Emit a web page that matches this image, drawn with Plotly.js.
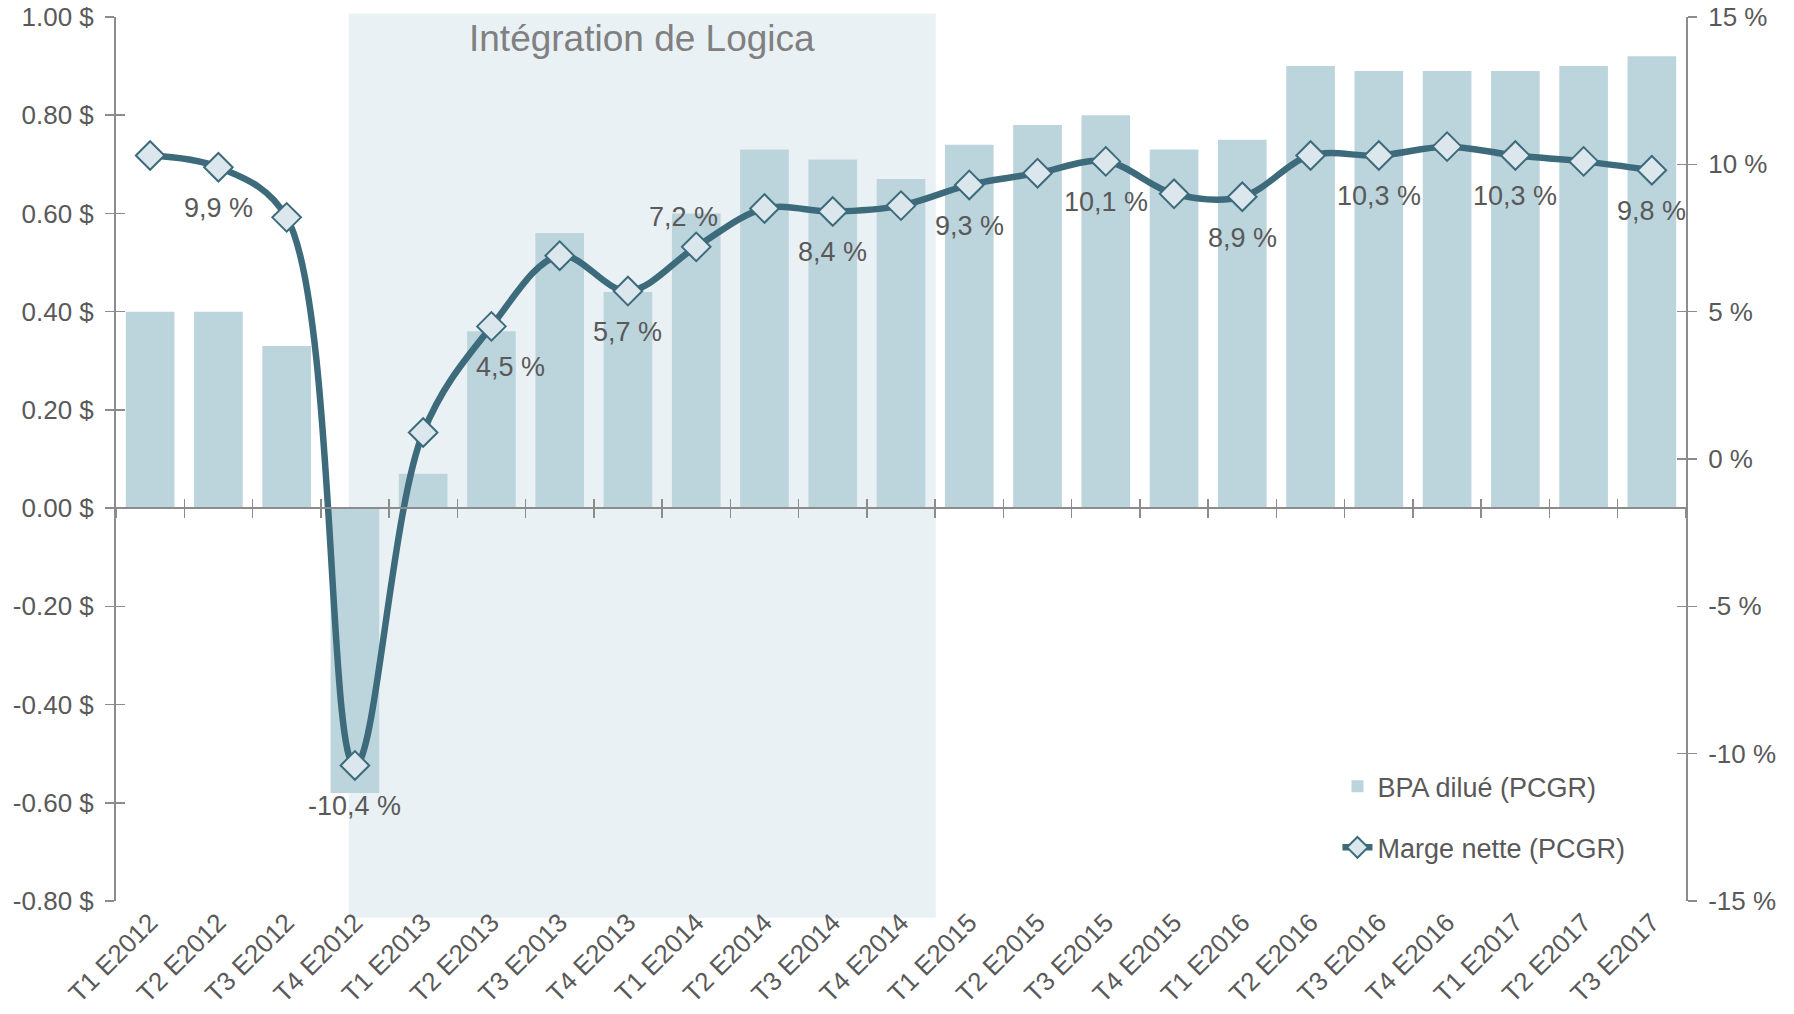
<!DOCTYPE html>
<html>
<head>
<meta charset="utf-8">
<script src="https://cdn.plot.ly/plotly-3.0.1.min.js"></script>
<style>
html,body{margin:0;padding:0;background:#fff;}
#chart{width:1794px;height:1014px;}
</style>
</head>
<body>
<div id="chart"></div>
<script>
const categories = ['T1 E2012','T2 E2012','T3 E2012','T4 E2012','T1 E2013','T2 E2013','T3 E2013','T4 E2013',
  'T1 E2014','T2 E2014','T3 E2014','T4 E2014','T1 E2015','T2 E2015','T3 E2015','T4 E2015',
  'T1 E2016','T2 E2016','T3 E2016','T4 E2016','T1 E2017','T2 E2017','T3 E2017'];
const bpaDilue = [0.40,0.40,0.33,-0.58,0.07,0.36,0.56,0.44,0.60,0.73,0.71,0.67,0.74,0.78,0.80,0.73,0.75,0.90,0.89,0.89,0.89,0.90,0.92];
const margeNette = [10.3,9.9,8.2,-10.4,0.9,4.5,6.9,5.7,7.2,8.5,8.4,8.6,9.3,9.7,10.1,9.0,8.9,10.3,10.3,10.6,10.3,10.1,9.8];
const margeLabels = ['','9,9 %','','-10,4 %','','4,5 %','','5,7 %','7,2 %','','8,4 %','','9,3 %','','10,1 %','','8,9 %','','10,3 %','','10,3 %','','9,8 %'];
const leftTickVals = [-0.8,-0.6,-0.4,-0.2,0,0.2,0.4,0.6,0.8,1.0];
const leftTickText = ['-0.80 $','-0.60 $','-0.40 $','-0.20 $','0.00 $','0.20 $','0.40 $','0.60 $','0.80 $','1.00 $'];
const rightTickVals = [-15,-10,-5,0,5,10,15];
const rightTickText = ['-15 %','-10 %','-5 %','0 %','5 %','10 %','15 %'];
const seriesNames = ['BPA dilué (PCGR)','Marge nette (PCGR)'];
const periodTitle = 'Intégration de Logica';
const periodStart = 2.91, periodEnd = 11.51;

const FONT = 'Liberation Sans, Arial, sans-serif';
const TXT = '#595959';
const AXC = '#8c8c8c';
const BAR = '#bcd5dd';
const LINE = '#3d6b7b';

const n = categories.length;
const yrange = [-0.8, 1.0];
const y2range = [-15, 15];
const zeroPos = (0 - yrange[0])/(yrange[1]-yrange[0]);

const traces = [
  {type:'bar', x:categories, y:bpaDilue, name:seriesNames[0], marker:{color:BAR},
   xaxis:'x', yaxis:'y', legendgroup:'a', hoverinfo:'x+y'},
  {type:'scatter', mode:'lines+markers', x:categories, y:margeNette, name:seriesNames[1],
   xaxis:'x', yaxis:'y2', legendgroup:'b',
   line:{color:LINE, width:6.5, shape:'spline', smoothing:1},
   marker:{symbol:'diamond', size:22, color:'#dbe7ed', line:{color:LINE, width:2}}},
  // empty helper traces so the tick-only overlay axes get drawn
  {type:'scatter', x:[], y:[], xaxis:'x2', yaxis:'y3', showlegend:false, hoverinfo:'skip'},
  {type:'scatter', x:[], y:[], xaxis:'x3', yaxis:'y4', showlegend:false, hoverinfo:'skip'}
];

const annotations = [];
margeLabels.forEach((t,i)=>{
  if(!t) return;
  let xs = 0, ys = -41;
  if (t === '7,2 %') { xs = -13; ys = 30; }
  if (t === '4,5 %') { xs = 19; }
  annotations.push({x:categories[i], y:margeNette[i], xref:'x', yref:'y2', text:t, showarrow:false,
    xshift:xs, yshift:ys, font:{family:FONT, size:27, color:TXT}});
});
annotations.push({x:(periodStart+periodEnd)/2, y:0.976, xref:'x', yref:'paper', text:periodTitle,
  yanchor:'middle', showarrow:false, font:{family:FONT, size:37, color:'#808080'}});

const tickCommon = {ticklen:9, tickwidth:1.5, tickcolor:AXC, showgrid:false, zeroline:false};

const layout = {
  width:1794, height:1014,
  margin:{l:116, r:108, t:17, b:113},
  paper_bgcolor:'#ffffff', plot_bgcolor:'rgba(0,0,0,0)',
  font:{family:FONT, color:TXT},
  bargap:0.287,
  showlegend:true,
  legend:{x:0.778, y:0.157, xanchor:'left', yanchor:'top', traceorder:'grouped', tracegroupgap:23,
    font:{family:FONT, size:27, color:TXT}, bgcolor:'rgba(0,0,0,0)'},
  xaxis:{type:'category', range:[-0.5, n-0.5], showline:false, ticks:'', showgrid:false, zeroline:false,
    tickangle:-45, tickfont:{family:FONT, size:26, color:TXT}, ticklabelstandoff:0},
  xaxis2:Object.assign({overlaying:'x', anchor:'free', position:zeroPos, range:[-0.5, n-0.5], tick0:-0.5, dtick:1,
    showline:true, linecolor:AXC, linewidth:2, ticks:'outside', showticklabels:false}, tickCommon),
  xaxis3:Object.assign({overlaying:'x', anchor:'free', position:zeroPos, range:[-0.5, n-0.5], tick0:-0.5, dtick:1,
    showline:false, ticks:'inside', showticklabels:false}, tickCommon),
  yaxis:Object.assign({range:yrange, tickmode:'array', tickvals:leftTickVals, ticktext:leftTickText,
    showline:true, linecolor:AXC, linewidth:2, ticks:'outside',
    tickfont:{family:FONT, size:26, color:TXT}, ticklabelstandoff:6}, tickCommon),
  yaxis3:Object.assign({overlaying:'y', side:'left', anchor:'x2', range:yrange, tickmode:'array', tickvals:leftTickVals,
    ticks:'inside', showticklabels:false, showline:false}, tickCommon),
  yaxis2:Object.assign({overlaying:'y', side:'right', range:y2range, tickmode:'array', tickvals:rightTickVals,
    ticktext:rightTickText, showline:true, linecolor:AXC, linewidth:2, ticks:'outside',
    tickfont:{family:FONT, size:26, color:TXT}, ticklabelstandoff:6}, tickCommon),
  yaxis4:Object.assign({overlaying:'y', side:'right', anchor:'x3', range:y2range, tickmode:'array', tickvals:rightTickVals,
    ticks:'inside', showticklabels:false, showline:false}, tickCommon),
  shapes:[{type:'rect', xref:'x', yref:'paper', x0:periodStart, x1:periodEnd, y0:-0.019, y1:1.004,
    fillcolor:'#e9f1f5', line:{width:0}, layer:'below'}],
  annotations:annotations
};

Plotly.newPlot('chart', traces, layout, {displayModeBar:false, staticPlot:true});
</script>
</body>
</html>
